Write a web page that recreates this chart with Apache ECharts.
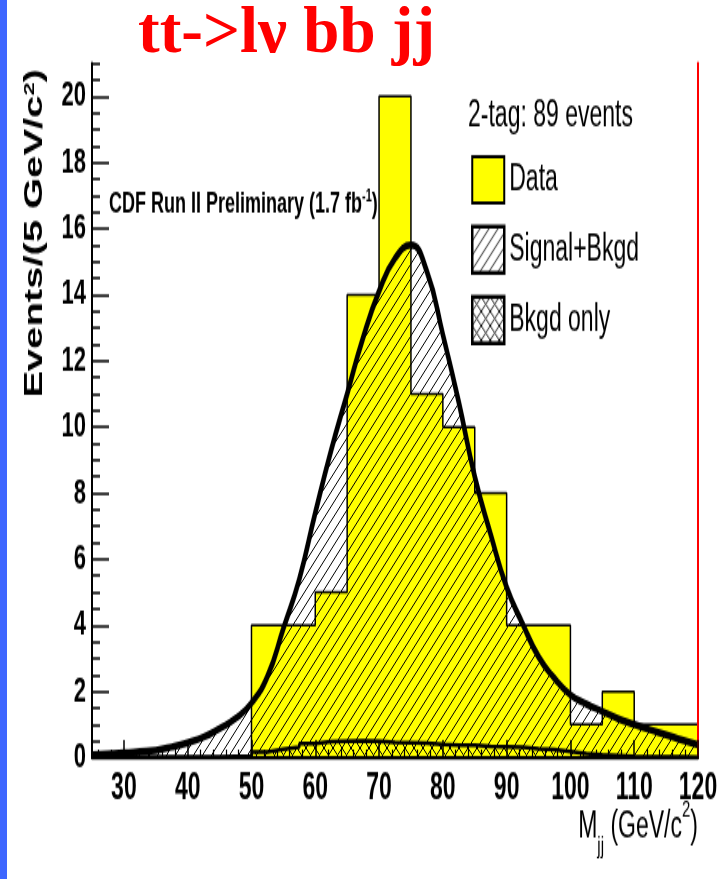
<!DOCTYPE html>
<html>
<head>
<meta charset="utf-8">
<script src="https://cdn.jsdelivr.net/npm/echarts@6/dist/echarts.min.js"></script>
<style>
  html, body { margin: 0; padding: 0; background: #fff; overflow: hidden; }
  #page { position: relative; width: 725px; height: 879px; }
  /* the plot is laid out at 725x550 and stretched to the full page height */
  #plot { position: absolute; left: 0; top: 0; width: 725px; height: 550px;
          transform: scaleY(1.5982); transform-origin: 0 0; }
  #head { position: absolute; left: 0; top: 0; width: 725px; height: 100px; }
</style>
</head>
<body>
<div id="page">
  <div id="plot"></div>
  <div id="head"></div>
</div>
<script>
// Dijet mass M_jj, 5 GeV/c^2 bins (lower bin edges), observed 2-tag events
const binLow = [25, 30, 35, 40, 45, 50, 55, 60, 65, 70, 75, 80, 85, 90, 95, 100, 105, 110, 115];
const dataCounts = [0, 0, 0, 0, 0, 4, 4, 5, 14, 20, 11, 10, 8, 4, 4, 1, 2, 1, 1];
const massMax = 120;

// Signal + background expectation (smooth template), sampled every 2.5 GeV/c^2
const sigMass = [25, 27.5, 30, 32.5, 35, 37.5, 40, 42.5, 45, 47.5, 50, 52.5, 55, 57.5, 60, 62.5, 65, 67.5, 70, 72.5,
                 75, 77.5, 80, 82.5, 85, 87.5, 90, 92.5, 95, 97.5, 100, 102.5, 105, 107.5, 110, 112.5, 115, 117.5, 120];
const sigEvents = [0.08, 0.11, 0.14, 0.18, 0.22, 0.32, 0.45, 0.62, 0.88, 1.18, 1.65, 2.45, 3.9, 5.4, 7.4, 9.3, 11.0, 12.7, 14.1, 15.1,
                   15.5, 14.7, 12.8, 10.75, 8.5, 6.75, 5.15, 4.05, 3.05, 2.4, 1.9, 1.62, 1.4, 1.17, 1.0, 0.84, 0.69, 0.53, 0.39];

// Background-only expectation, 2.5 GeV/c^2 bins (lower edges)
const bkgLow = [25, 27.5, 30, 32.5, 35, 37.5, 40, 42.5, 45, 47.5, 50, 52.5, 55, 57.5, 60, 62.5, 65, 67.5, 70, 72.5,
                75, 77.5, 80, 82.5, 85, 87.5, 90, 92.5, 95, 97.5, 100, 102.5, 105, 107.5, 110, 112.5, 115, 117.5];
const bkgEvents = [0.04, 0.04, 0.02, 0.02, 0.02, 0.02, 0.03, 0.03, 0.04, 0.05, 0.17, 0.25, 0.32, 0.42, 0.48, 0.5, 0.51, 0.5, 0.46, 0.45,
                   0.44, 0.4, 0.38, 0.37, 0.34, 0.33, 0.31, 0.26, 0.24, 0.18, 0.12, 0.08, 0.06, 0.04, 0.03, 0.02, 0.02, 0.01];

const titleText = 'tt->l\u03bd bb jj';
const headerText = '2-tag: 89 events';
const cdfText = 'CDF Run II Preliminary (1.7 fb{sup|-1})';
const seriesNames = ['Data', 'Signal+Bkgd', 'Bkgd only'];

const FONT = 'Liberation Sans';

// histogram outline points: one per bin edge, last value repeated at the upper edge
function stepPoints(lows, vals, upper) {
  const pts = lows.map((x, i) => [x, vals[i]]);
  pts.push([upper, vals[vals.length - 1]]);
  return pts;
}

// hatch tiles: single "/" lines or crossed lines
function hatchTile(size, crossed) {
  const c = document.createElement('canvas');
  c.width = size; c.height = size;
  const g = c.getContext('2d');
  g.strokeStyle = '#000';
  g.lineWidth = 1;
  g.beginPath();
  g.moveTo(-1, size + 1); g.lineTo(size + 1, -1);
  g.moveTo(-2, 2); g.lineTo(2, -2);
  g.moveTo(size - 2, size + 2); g.lineTo(size + 2, size - 2);
  if (crossed) {
    g.moveTo(-1, -1); g.lineTo(size + 1, size + 1);
    g.moveTo(-2, size - 2); g.lineTo(2, size + 2);
    g.moveTo(size - 2, -2); g.lineTo(size + 2, 2);
  }
  g.stroke();
  return { image: c, repeat: 'repeat' };
}
const diagHatch = hatchTile(9, false);
const crossHatch = hatchTile(9, true);

const plot = echarts.init(document.getElementById('plot'), null, { renderer: 'canvas' });
plot.setOption({
  animation: false,
  backgroundColor: '#fff',
  title: [
    { text: headerText, left: 468, top: 61.5, padding: 0,
      textStyle: { fontFamily: FONT, fontSize: 23, fontWeight: 'normal', color: '#000' } },
    { text: cdfText, left: 109, top: 117, padding: 0,
      textStyle: { fontFamily: FONT, fontSize: 18, fontWeight: 'bold', color: '#000', lineHeight: 22,
        rich: { sup: { fontFamily: FONT, fontSize: 11, fontWeight: 'bold', color: '#000', verticalAlign: 'top', lineHeight: 22 } } } }
  ],
  legend: {
    orient: 'vertical', left: 471, top: 97, padding: 0,
    itemWidth: 32, itemHeight: 29, itemGap: 12.5,
    selectedMode: false,
    textStyle: { fontFamily: FONT, fontSize: 23, color: '#000' },
    data: [
      { name: seriesNames[0], icon: 'rect', itemStyle: { color: '#ffff00', borderColor: '#000', borderWidth: 2 } },
      { name: seriesNames[1], icon: 'rect', itemStyle: { color: diagHatch, borderColor: '#000', borderWidth: 2.5 } },
      { name: seriesNames[2], icon: 'rect', itemStyle: { color: crossHatch, borderColor: '#000', borderWidth: 2.5 } }
    ]
  },
  grid: { left: 92, right: 27, top: 39.6, bottom: 76, outerBoundsMode: 'none', containLabel: false },
  xAxis: [
    {
      type: 'value', min: 25, max: massMax, splitNumber: 10, z: 10,
      axisLine: { lineStyle: { color: '#000', width: 2 } },
      axisTick: { inside: true, length: 11, lineStyle: { color: '#000', width: 1.5 } },
      minorTick: { show: true, splitNumber: 5, length: 5, lineStyle: { color: '#000', width: 1.2 } },
      splitLine: { show: false },
      axisLabel: { showMinLabel: false, margin: 8, fontFamily: FONT, fontWeight: 'bold', fontSize: 23, color: '#000' },
      name: 'M{sub|jj} (GeV/c{sup|2})', nameLocation: 'end', nameGap: 0, nameMoveOverlap: false,
      nameTextStyle: {
        fontFamily: FONT, fontSize: 23, color: '#000', align: 'right', verticalAlign: 'top',
        lineHeight: 38, padding: [25, 0, 0, 0],
        rich: {
          sub: { fontFamily: FONT, fontSize: 15, color: '#000', verticalAlign: 'bottom', lineHeight: 38 },
          sup: { fontFamily: FONT, fontSize: 15, color: '#000', verticalAlign: 'top', lineHeight: 38 }
        }
      }
    },
    {
      type: 'value', position: 'top', min: 25, max: massMax, z: 10,
      axisLine: { lineStyle: { color: '#000', width: 1.3 } },
      axisTick: { show: false }, axisLabel: { show: false }, splitLine: { show: false }
    }
  ],
  yAxis: [
    {
      type: 'value', min: 0, max: 21, interval: 2, z: 10,
      axisLine: { show: true, lineStyle: { color: '#000', width: 2 } },
      axisTick: { inside: true, length: 17, lineStyle: { color: '#000', width: 1.5 } },
      splitLine: { show: false },
      axisLabel: { showMaxLabel: false, margin: 6, fontFamily: FONT, fontWeight: 'bold', fontSize: 22, color: '#000' },
      name: 'Events/(5 GeV/c{sup|2})', nameLocation: 'middle', nameRotate: 90, nameGap: 57,
      nameTextStyle: {
        fontFamily: FONT, fontWeight: 'bold', fontSize: 25, color: '#000', align: 'left', verticalAlign: 'middle',
        padding: [0, 0, 0, 8],
        rich: { sup: { fontFamily: FONT, fontWeight: 'bold', fontSize: 15, color: '#000', verticalAlign: 'top' } }
      }
    },
    {
      type: 'value', min: 0, max: 21, interval: 0.5, position: 'left', z: 10,
      axisLine: { show: false },
      axisTick: { inside: true, length: 8, lineStyle: { color: '#000', width: 1.5 } },
      axisLabel: { show: false }, splitLine: { show: false }
    },
    {
      type: 'value', min: 0, max: 21, position: 'right', z: 10,
      axisLine: { show: true, lineStyle: { color: '#ff0000', width: 2 } },
      axisTick: { show: false }, axisLabel: { show: false }, splitLine: { show: false }
    }
  ],
  graphic: [
    { type: 'rect', left: 0, top: 0, z: 100, shape: { width: 7, height: 550 }, style: { fill: '#3e66ff' } }
  ],
  series: [
    {
      name: seriesNames[0], type: 'line', step: 'end', z: 2,
      showSymbol: false, symbol: 'none',
      data: stepPoints(binLow, dataCounts, massMax),
      lineStyle: { color: '#000', width: 1.5 },
      areaStyle: { color: '#ffff00', opacity: 1 },
      itemStyle: { color: '#ffff00' }
    },
    {
      name: seriesNames[1], type: 'line', smooth: 0.5, z: 3,
      showSymbol: false, symbol: 'none',
      data: sigMass.map((m, i) => [m, sigEvents[i]]),
      lineStyle: { color: '#000', width: 4.5 },
      areaStyle: { color: diagHatch, opacity: 1 },
      itemStyle: { color: '#000' }
    },
    {
      name: seriesNames[2], type: 'line', step: 'end', z: 4,
      showSymbol: false, symbol: 'none',
      data: stepPoints(bkgLow, bkgEvents, massMax),
      lineStyle: { color: '#000', width: 2.5 },
      areaStyle: { color: crossHatch, opacity: 1 },
      itemStyle: { color: '#000' }
    }
  ]
});

const head = echarts.init(document.getElementById('head'), null, { renderer: 'canvas' });
head.setOption({
  animation: false,
  title: {
    text: titleText, left: 138, top: 3, padding: 0,
    textStyle: { fontFamily: 'Liberation Serif', fontWeight: 'bold', fontSize: 65, color: '#ff0000' }
  }
});
</script>
</body>
</html>
